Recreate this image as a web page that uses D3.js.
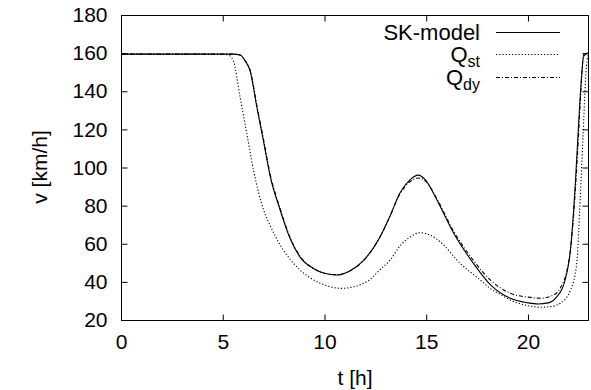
<!DOCTYPE html>
<html>
<head>
<meta charset="utf-8" />
<title>SK-model vs Q</title>
<style>
  body { margin: 0; background: #fff; }
  svg text { font-family: "Liberation Sans", Arial, sans-serif; fill: #000; }
</style>
<script src="https://cdn.jsdelivr.net/npm/d3@7/dist/d3.min.js"></script>
</head>
<body>
<svg id="chart" width="591" height="390"></svg>
<script>

// time grid [h] and velocities [km/h]
var tSK  = [0, 5.0, 5.5, 5.85, 6.1, 6.35, 6.67, 7.0, 7.33, 7.82, 8.3, 8.8, 9.46, 10.0, 10.6, 11.2, 11.9, 12.7, 13.2, 13.7, 14.2, 14.6, 15.0, 15.5, 16.35, 17.3, 18.2, 19.1, 20.0, 20.5, 21.0, 21.4, 21.8, 22.1, 22.33, 22.5, 22.65, 22.75, 22.95];
var vSK  = [159.5, 159.5, 159.5, 159, 156, 150.5, 132, 114, 95.5, 77.7, 63, 53, 47, 44.5, 43.6, 45.5, 51, 63, 74, 86.5, 93.5, 96, 93, 83.5, 65.5, 50, 38, 31.5, 29, 28.4, 29, 32, 40, 58, 92, 125, 150, 159.5, 160];

var tQst = [0, 5.0, 5.28, 5.52, 5.85, 6.18, 6.51, 7.0, 7.4, 7.82, 8.3, 8.8, 9.79, 10.85, 12.08, 12.74, 13.23, 13.72, 14.2, 14.71, 15.2, 15.69, 16.67, 17.66, 18.15, 18.64, 19.13, 20.0, 20.61, 21.2, 21.59, 22.09, 22.4, 22.55, 22.7, 22.85, 22.95];
var vQst = [159.5, 159.5, 159, 156, 137, 118, 98.7, 78, 68, 59.3, 52, 46.2, 39.3, 36.6, 40.1, 46.5, 51.5, 59, 63.5, 65.8, 64.5, 61, 49.7, 41, 36.5, 33.5, 30.5, 27.5, 26.7, 27.2, 28.8, 35.7, 50, 80, 115, 150, 159];

var tQdy = [0, 5.0, 5.5, 5.85, 6.1, 6.35, 6.67, 7.0, 7.33, 7.82, 8.3, 8.8, 9.46, 10.0, 10.6, 11.2, 11.9, 12.7, 13.2, 13.7, 14.2, 14.6, 15.0, 15.5, 16.35, 17.3, 18.15, 19.13, 20.0, 20.61, 21.26, 21.6, 21.92, 22.1, 22.25, 22.45, 22.6, 22.72, 22.95];
var vQdy = [159.5, 159.5, 159.5, 159, 156, 151, 133, 115, 96.5, 78.5, 63.5, 53.5, 47, 44.5, 43.8, 45.5, 51, 63, 74, 86, 92.5, 94.5, 92.5, 84, 66.5, 51.5, 41, 34, 32, 31.4, 33.1, 37, 46.2, 58, 76, 110, 140, 158, 160];

var xTicks = [0, 5, 10, 15, 20];
var yTicks = [20, 40, 60, 80, 100, 120, 140, 160, 180];

var series = [
  {name: "SK", t: tSK, v: vSK, dash: null},
  {name: "Qst", t: tQst, v: vQst, dash: "1.2,2"},
  {name: "Qdy", t: tQdy, v: vQdy, dash: "4,2,1,2"}
];

var svg = d3.select("#chart");
var pLeft = 121, pRight = 588, pTop = 15, pBottom = 320;

var x = d3.scaleLinear().domain([0, 22.95]).range([pLeft, pRight]);
var y = d3.scaleLinear().domain([20, 180]).range([pBottom, pTop]);

// frame
svg.append("rect")
  .attr("x", pLeft + 0.5).attr("y", pTop + 0.5)
  .attr("width", pRight - pLeft).attr("height", pBottom - pTop)
  .attr("fill", "none").attr("stroke", "#000").attr("stroke-width", 1);

// axes with inward ticks, mirrored
var fs = "21px";
var xb = svg.append("g").attr("transform", "translate(0," + (pBottom + 0.5) + ")")
  .call(d3.axisBottom(x).tickValues(xTicks).tickSizeInner(-6).tickSizeOuter(0).tickPadding(14));
var xt = svg.append("g").attr("transform", "translate(0," + (pTop + 0.5) + ")")
  .call(d3.axisTop(x).tickValues(xTicks.slice(1)).tickSizeInner(-6).tickSizeOuter(0).tickFormat(""));
var yl = svg.append("g").attr("transform", "translate(" + (pLeft + 0.5) + ",0)")
  .call(d3.axisLeft(y).tickValues(yTicks).tickSizeInner(-6).tickSizeOuter(0).tickPadding(14));
var yr = svg.append("g").attr("transform", "translate(" + (pRight + 0.5) + ",0)")
  .call(d3.axisRight(y).tickValues(yTicks.slice(1, -1)).tickSizeInner(-6).tickSizeOuter(0).tickFormat(""));

[xb, xt, yl, yr].forEach(function(g) {
  g.select(".domain").remove();
  g.selectAll("line").attr("stroke", "#000");
  g.selectAll("text").style("font-size", fs).attr("font-family", null).attr("fill", "#000");
});
xb.selectAll(".tick").filter(function(d) { return d === 0; }).select("line").remove();
yl.selectAll(".tick").filter(function(d) { return d === 20 || d === 180; }).select("line").remove();

// axis titles
svg.append("text").attr("x", 355).attr("y", 385).attr("text-anchor", "middle")
  .style("font-size", fs).text("t [h]");
svg.append("text").attr("transform", "translate(47,167) rotate(-90)").attr("text-anchor", "middle")
  .style("font-size", fs).text("v [km/h]");

// curves
svg.append("clipPath").attr("id", "clip").append("rect")
  .attr("x", pLeft).attr("y", pTop).attr("width", pRight - pLeft + 1).attr("height", pBottom - pTop);

var line = d3.line()
  .x(function(d) { return x(d[0]); })
  .y(function(d) { return y(d[1]); })
  .curve(d3.curveMonotoneX);

series.forEach(function(s) {
  var pts = s.t.map(function(t, i) { return [t, s.v[i]]; });
  svg.append("path")
    .attr("clip-path", "url(#clip)")
    .attr("d", line(pts))
    .attr("fill", "none")
    .attr("stroke", "#000")
    .attr("stroke-width", 1.1)
    .attr("stroke-dasharray", s.dash);
});

// legend
var leg = svg.append("g");
var rows = [
  {label: "SK-model", sub: null, y: 40, dash: null},
  {label: "Q", sub: "st", y: 62, dash: "1.2,2"},
  {label: "Q", sub: "dy", y: 85, dash: "4,2,1,2"}
];
rows.forEach(function(r) {
  var t = leg.append("text").attr("x", 480).attr("y", r.y).attr("text-anchor", "end")
    .style("font-size", "22px");
  t.append("tspan").text(r.label);
  if (r.sub) t.append("tspan").attr("dy", 5).style("font-size", "16px").text(r.sub);
  leg.append("line")
    .attr("x1", 496).attr("x2", 560)
    .attr("y1", r.y - 7.5).attr("y2", r.y - 7.5)
    .attr("stroke", "#000").attr("stroke-width", 1.1)
    .attr("stroke-dasharray", r.dash);
});

</script>
</body>
</html>
